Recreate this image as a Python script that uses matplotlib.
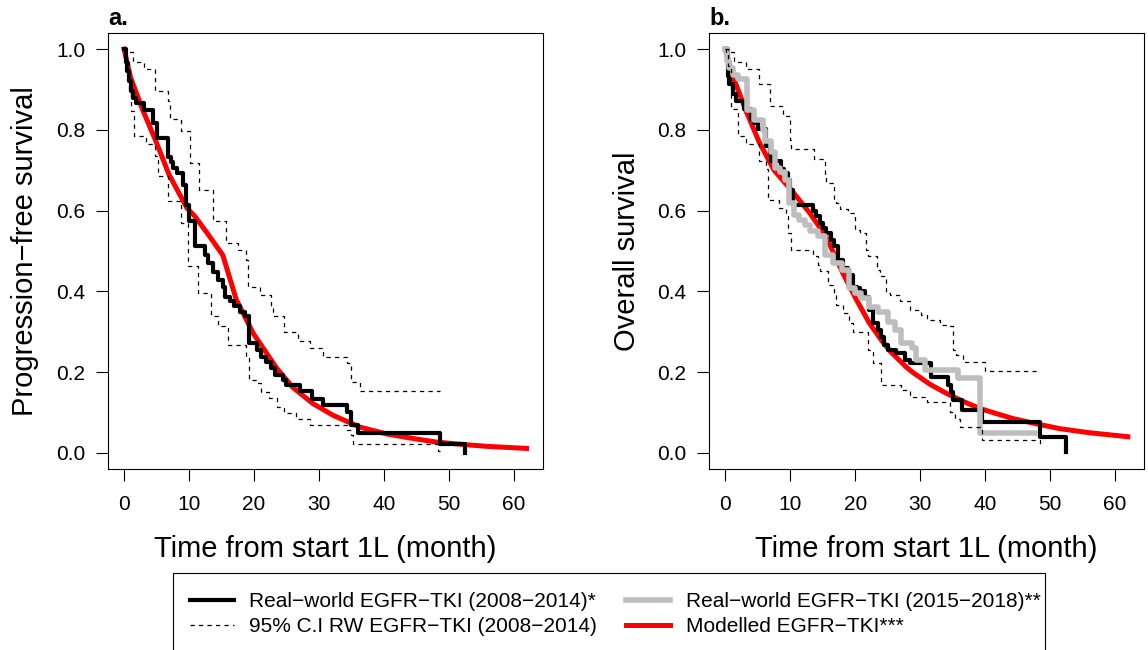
import matplotlib
matplotlib.use("Agg")
import matplotlib.pyplot as plt
from matplotlib.lines import Line2D
from matplotlib.patches import Rectangle
from matplotlib.ticker import FormatStrFormatter

plt.rcParams["font.family"] = ["Liberation Sans", "DejaVu Sans"]

# ---- panel a: progression-free survival ----
pfs_rw_t = [0, 0.3, 0.5, 0.75, 1.0, 1.4, 1.8, 3.0, 4.5, 5.0, 6.7, 7.2, 7.5, 8.2, 9.0,
            9.5, 10.0, 11.0, 12.4, 13.0, 13.7, 14.4, 15.2, 15.5, 16.3, 17.0, 17.8,
            18.6, 19.2, 20.4, 21.1, 21.9, 22.7, 23.2, 24.5, 25.0, 27.1, 28.9, 30.7,
            34.3, 35.0, 36.1, 48.6, 52.5]
pfs_rw_s = [1.0, 0.967, 0.945, 0.92, 0.896, 0.88, 0.867, 0.85, 0.817, 0.78, 0.734,
            0.72, 0.705, 0.693, 0.664, 0.614, 0.575, 0.512, 0.491, 0.47, 0.449, 0.429,
            0.41, 0.387, 0.375, 0.363, 0.35, 0.338, 0.272, 0.255, 0.238, 0.226, 0.209,
            0.193, 0.18, 0.168, 0.152, 0.133, 0.118, 0.102, 0.069, 0.05, 0.023, 0.0]

pfs_hi_t = [0, 0.3, 1.34, 3.1, 4.7, 6.7, 7.0, 8.8, 10.1, 11.6, 13.7, 15.7, 17.5, 18.8,
            19.1, 20.9, 22.7, 22.9, 24.7, 26.8, 28.6, 30.7, 34.3, 35.0, 36.3, 48.7]
pfs_hi_s = [1.0, 0.992, 0.967, 0.95, 0.896, 0.872, 0.826, 0.797, 0.718, 0.652, 0.574,
            0.52, 0.503, 0.478, 0.412, 0.392, 0.358, 0.338, 0.30, 0.276, 0.259, 0.238,
            0.222, 0.176, 0.153, 0.153]

pfs_lo_t = [0, 0.3, 0.82, 1.08, 1.6, 3.4, 4.7, 5.2, 6.7, 8.8, 9.8, 11.4, 13.4, 14.5,
            16.0, 18.8, 19.3, 20.4, 21.1, 22.4, 23.5, 24.7, 26.5, 28.6, 34.3, 35.0,
            35.3, 48.4, 48.7]
pfs_lo_s = [1.0, 0.967, 0.90, 0.847, 0.785, 0.764, 0.735, 0.685, 0.623, 0.57, 0.462,
            0.396, 0.338, 0.313, 0.267, 0.234, 0.18, 0.172, 0.151, 0.135, 0.114, 0.098,
            0.085, 0.069, 0.056, 0.044, 0.023, 0.005, 0.005]

pfs_mod_t = [0, 1.0, 2.8, 4.9, 6.9, 9.7, 10.9, 13.0, 15.2, 17.3, 19.9, 23.5, 26.0,
             29.1, 32.2, 36.3, 40.4, 44, 48, 52, 56, 62]
pfs_mod_s = [1.0, 0.93, 0.852, 0.772, 0.69, 0.606, 0.586, 0.54, 0.49, 0.379, 0.296,
             0.21, 0.162, 0.122, 0.093, 0.064, 0.047, 0.037, 0.027, 0.021, 0.016, 0.011]

# ---- panel b: overall survival ----
os_rw_t = [0, 0.36, 0.62, 1.13, 1.65, 2.93, 3.96, 4.48, 5.0, 6.28, 6.8, 7.05, 8.6, 9.1,
           9.6, 9.9, 10.4, 13.5, 14.0, 14.5, 15.0, 15.5, 16.3, 16.8, 17.3, 18.1, 18.9,
           19.7, 20.2, 20.7, 21.5, 22.2, 22.7, 23.5, 24.0, 24.5, 25.1, 26.3, 27.6,
           28.4, 31.7, 34.3, 34.8, 35.1, 36.4, 39.5, 48.5, 52.5]
os_rw_s = [1.0, 0.934, 0.913, 0.888, 0.872, 0.851, 0.826, 0.818, 0.801, 0.76, 0.743,
           0.723, 0.702, 0.694, 0.677, 0.652, 0.615, 0.599, 0.586, 0.57, 0.557, 0.545,
           0.528, 0.512, 0.478, 0.458, 0.441, 0.412, 0.408, 0.40, 0.387, 0.354, 0.321,
           0.305, 0.288, 0.267, 0.255, 0.247, 0.23, 0.222, 0.189, 0.168, 0.151, 0.131,
           0.106, 0.077, 0.04, 0.003]

os_new_t = [0, 0.3, 0.6, 1.1, 2.0, 3.3, 4.4, 5.8, 6.1, 7.1, 7.6, 8.4, 9.2, 9.8, 10.6,
            11.4, 12.2, 13.0, 14.2, 15.3, 16.6, 17.9, 19.1, 19.9, 20.9, 22.2, 23.5,
            25.0, 26.1, 27.1, 28.7, 29.4, 30.7, 35.9, 39.2, 47.7]
os_new_s = [1.0, 0.97, 0.953, 0.937, 0.925, 0.85, 0.825, 0.80, 0.772, 0.745, 0.705,
            0.695, 0.675, 0.62, 0.59, 0.578, 0.565, 0.55, 0.536, 0.49, 0.47, 0.454,
            0.408, 0.396, 0.383, 0.362, 0.35, 0.325, 0.305, 0.272, 0.259, 0.23, 0.205,
            0.185, 0.048, 0.048]

os_hi_t = [0, 0.1, 1.4, 3.2, 5.2, 6.8, 8.85, 9.9, 10.1, 13.7, 15.3, 15.5, 16.8, 17.1,
           17.6, 18.9, 19.9, 20.7, 21.7, 22.0, 23.3, 23.8, 24.8, 25.3, 26.9, 28.4,
           30.2, 31.0, 33.0, 34.1, 35.1, 35.6, 36.6, 40.0, 48.5]
os_hi_s = [1.0, 0.992, 0.967, 0.95, 0.913, 0.859, 0.834, 0.776, 0.752, 0.727, 0.685,
           0.669, 0.627, 0.619, 0.603, 0.594, 0.553, 0.545, 0.503, 0.487, 0.454, 0.437,
           0.396, 0.392, 0.375, 0.354, 0.342, 0.329, 0.317, 0.313, 0.255, 0.243, 0.226,
           0.203, 0.203]

os_lo_t = [0, 0.36, 0.87, 1.9, 3.2, 5.2, 6.3, 6.5, 8.3, 9.4, 9.6, 10.1, 13.5, 14.2,
           14.5, 15.8, 16.8, 17.1, 18.1, 19.1, 19.7, 22.0, 22.7, 24.0, 27.1, 28.4, 31.0,
           34.6, 35.3, 36.1, 39.5, 48.5]
os_lo_s = [1.0, 0.959, 0.851, 0.785, 0.764, 0.723, 0.702, 0.627, 0.607, 0.586, 0.545,
           0.503, 0.487, 0.466, 0.45, 0.416, 0.396, 0.367, 0.346, 0.321, 0.30, 0.255,
           0.222, 0.168, 0.156, 0.139, 0.127, 0.102, 0.085, 0.065, 0.031, 0.019]

os_mod_t = [0, 1.0, 3.1, 5.2, 7.5, 10.2, 13.0, 15.5, 18.1, 20.2, 22.2, 24.0, 25.5, 27.9,
            28.9, 31.5, 34.1, 36.7, 39.2, 41.8, 44.3, 47.9, 51.5, 56, 62]
os_mod_s = [1.0, 0.94, 0.85, 0.77, 0.70, 0.65, 0.594, 0.536, 0.445, 0.379, 0.321, 0.28,
            0.25, 0.212, 0.199, 0.17, 0.147, 0.127, 0.11, 0.097, 0.085, 0.072, 0.06,
            0.05, 0.04]

legend_labels = ["Real\u2212world EGFR\u2212TKI (2008\u22122014)*",
                 "95% C.I RW EGFR\u2212TKI (2008\u22122014)",
                 "Real\u2212world EGFR\u2212TKI (2015\u22122018)**",
                 "Modelled EGFR\u2212TKI***"]

RED = "#FF0000"
GREY = "#BEBEBE"
DASH = (0, (3.4, 3.4))

W, H = 1148, 650
fig = plt.figure(figsize=(W / 100, H / 100), dpi=100)
ax_a = fig.add_axes([108 / W, 1 - 469 / H, 434.6 / W, 436 / H])
ax_b = fig.add_axes([709.3 / W, 1 - 469 / H, 434.6 / W, 436 / H])


def style(ax, ylabel, tag):
    ax.set_xlim(-2.48, 64.48)
    ax.set_ylim(-0.04, 1.04)
    ax.set_xticks(range(0, 61, 10))
    ax.set_yticks([0, 0.2, 0.4, 0.6, 0.8, 1.0])
    ax.yaxis.set_major_formatter(FormatStrFormatter("%.1f"))
    ax.tick_params(axis="both", direction="out", length=8.4, width=0.8,
                   labelsize=15)
    ax.tick_params(axis="y", pad=8)
    ax.tick_params(axis="x", pad=10)
    for sp in ax.spines.values():
        sp.set_linewidth(0.8)
    ax.set_xlabel("Time from start 1L (month)", fontsize=21, va="center")
    ax.xaxis.set_label_coords(0.5, -0.1835)
    ax.set_ylabel(ylabel, fontsize=21, va="center")
    ax.yaxis.set_label_coords(-0.19, 0.5)
    ax.text(0, 1.018, tag, transform=ax.transAxes, fontsize=17,
            fontweight="bold", ha="left", va="baseline")


# panel a
ax_a.plot(pfs_mod_t, pfs_mod_s, color=RED, lw=3.6, zorder=2)
ax_a.step(pfs_rw_t, pfs_rw_s, where="post", color="black", lw=3.0, zorder=3)
ax_a.step(pfs_hi_t, pfs_hi_s, where="post", color="black", lw=0.9, ls=DASH, zorder=4)
ax_a.step(pfs_lo_t, pfs_lo_s, where="post", color="black", lw=0.9, ls=DASH, zorder=4)
style(ax_a, "Progression\u2212free survival", "a.")

# panel b
ax_b.plot(os_mod_t, os_mod_s, color=RED, lw=3.6, zorder=2)
ax_b.step(os_rw_t, os_rw_s, where="post", color="black", lw=3.0, zorder=3)
ax_b.step(os_new_t, os_new_s, where="post", color=GREY, lw=4.0, zorder=3.5)
ax_b.step(os_hi_t, os_hi_s, where="post", color="black", lw=0.9, ls=DASH, zorder=4)
ax_b.step(os_lo_t, os_lo_s, where="post", color="black", lw=0.9, ls=DASH, zorder=4)
style(ax_b, "Overall survival", "b.")

# legend
fig.patches.append(Rectangle((173 / W, -0.02), (1045 - 173) / W, 0.02 + 1 - 573 / H,
                             transform=fig.transFigure, fill=False,
                             edgecolor="black", lw=0.8))
handles = [Line2D([], [], color="black", lw=3.0),
           Line2D([], [], color="black", lw=0.9, ls=DASH),
           Line2D([], [], color=GREY, lw=4.0),
           Line2D([], [], color=RED, lw=3.6)]
fig.legend(handles, legend_labels, loc="upper left", ncol=2,
           bbox_to_anchor=(190 / W, 1 - 592 / H), frameon=False, fontsize=15,
           handlelength=2.1, handletextpad=0.75, columnspacing=1.4,
           labelspacing=0.3, borderpad=0, borderaxespad=0)

fig.savefig("out.png", dpi=100)
